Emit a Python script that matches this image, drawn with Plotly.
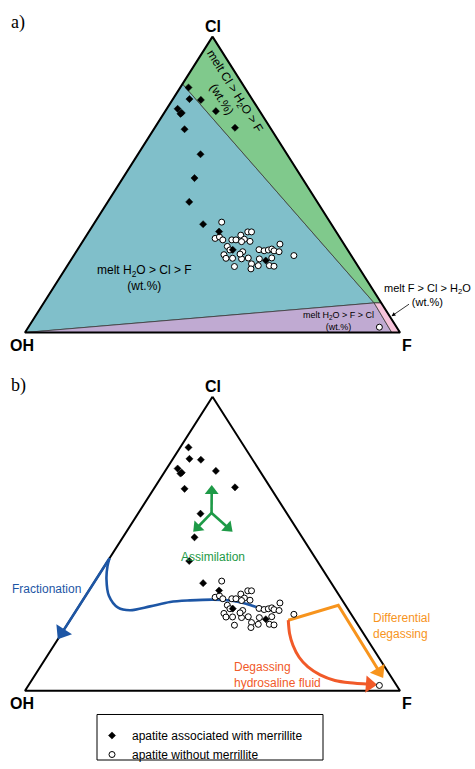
import math
import plotly.graph_objects as go

W, H = 475, 769
SANS = "Arial, Liberation Sans, Helvetica, sans-serif"
SERIF = "Times New Roman, Liberation Serif, serif"

# ---------------- apatite analyses, mol % (Cl, OH, F) ----------------
# apatite associated with merrillite
merr_cl = [82.8, 78.9, 78.6, 74.8, 75.6, 73.9, 74.2, 68.7, 69.2, 60.3, 52.2, 44.1, 36.6, 34.1, 27.9, 24.3]
merr_oh = [15.0, 16.7, 13.8, 11.7, 21.5, 21.6, 21.1, 23.1, 9.4, 23.1, 28.7, 34.1, 34.2, 31.2, 30.6, 23.6]
merr_f = [2.2, 4.4, 7.6, 13.5, 2.9, 4.5, 4.7, 8.2, 21.4, 16.7, 19.1, 21.7, 29.2, 34.7, 41.4, 52.0]

# apatite without merrillite
free_cl = [37.3, 31.8, 32.3, 31.3, 29.1, 31.3, 31.3, 32.9, 34.0, 34.0, 31.5, 30.8, 30.7,
           26.3, 25.1, 25.1, 27.3, 24.9, 25.2, 23.2, 21.5, 22.3, 28.0, 27.6, 27.9, 28.2,
           27.6, 27.3, 29.9, 24.9, 22.6, 22.6, 22.4, 25.2, 26.0, 27.9, 26.5, 1.8]
free_oh = [28.9, 33.4, 32.0, 31.6, 31.5, 29.2, 28.1, 26.0, 23.6, 22.6, 25.7, 24.6, 26.9,
           33.8, 33.9, 32.1, 28.3, 29.8, 27.9, 28.0, 29.0, 33.0, 23.6, 22.4, 21.2, 20.1,
           19.8, 18.6, 17.1, 25.1, 26.5, 23.5, 22.4, 21.6, 15.3, 31.4, 29.4, 4.6]
free_f = [33.8, 34.8, 35.7, 37.1, 39.4, 39.5, 40.6, 41.1, 42.4, 43.4, 42.7, 44.6, 42.4,
          39.9, 41.1, 42.8, 44.4, 45.3, 47.0, 48.8, 49.5, 44.7, 48.4, 49.9, 51.0, 51.7,
          52.6, 54.1, 53.1, 50.1, 50.9, 53.8, 55.2, 53.2, 58.7, 40.7, 44.1, 93.6]

# ---------------- melt-composition fields (panel a), (Cl, OH, F) ----------------
V_CL, V_OH, V_F = (100, 0, 0), (0, 100, 0), (0, 0, 100)
P_LEFT = (84.0, 16.0, 0.0)      # Cl = H2O boundary on the Cl-OH join
P_JUNC = (10.0, 1.9, 88.1)      # triple junction near the F corner
P_RIGHT = (10.0, 0.0, 90.0)     # green / pink boundary on the Cl-F join
P_BASE = (0.0, 2.2, 97.8)       # purple / pink boundary on the OH-F join

fields = [
    ("melt H2O > Cl > F", [V_OH, P_LEFT, P_JUNC], "#80bfca"),
    ("melt Cl > H2O > F", [V_CL, P_LEFT, P_JUNC, P_RIGHT], "#80c98c"),
    ("melt H2O > F > Cl", [V_OH, P_JUNC, P_BASE], "#c0aad2"),
    ("melt F > Cl > H2O", [P_JUNC, P_RIGHT, V_F, P_BASE], "#f6c3da"),
]

# ---------------- process trends (panel b), (Cl, OH, F) ----------------
frac_cl = [27.9, 28.5, 29.9, 30.7, 31.0, 30.7, 30.2, 28.7, 27.4, 28.3, 32.3, 38.0, 42.4, 45.1]
frac_oh = [21.6, 24.0, 26.9, 30.0, 34.3, 40.6, 46.2, 52.3, 58.3, 61.1, 61.4, 59.2, 56.8, 54.9]
frac_f = [50.5, 47.5, 43.3, 39.3, 34.7, 28.6, 23.6, 19.0, 14.3, 10.7, 6.2, 2.7, 0.8, 0.0]
frac_end_cl, frac_end_oh, frac_end_f = [45.1, 17.5], [54.9, 82.5], [0.0, 0.0]

assim_centre = (60.5, 20.0, 19.5)
assim_tips = [(70.0, 15.2, 14.8), (54.1, 28.1, 17.8), (54.1, 17.6, 28.3)]

diff_cl = [24.0, 29.1, 4.4]
diff_oh = [17.8, 1.9, 2.3]
diff_f = [58.2, 69.0, 93.4]

hyd_cl = [24.0, 19.5, 15.5, 11.4, 8.1, 5.4, 3.5, 2.7, 2.0]
hyd_oh = [17.8, 19.7, 20.8, 21.2, 20.5, 18.6, 15.6, 12.0, 5.1]
hyd_f = [58.2, 60.8, 63.7, 67.4, 71.4, 76.0, 80.9, 85.3, 92.9]

C_FRAC, C_ASSIM, C_DIFF, C_HYD = "#1d56a5", "#1e9a47", "#f7941d", "#f15a29"

# ---------------- page geometry (pixels) ----------------
COL_OH, COL_F = 25, 400
ROW_BASE = {"a": 336, "b": 698}
ROW_APEX = {"a": 37, "b": 401}
ROW_SPLIT = 380
SX = COL_F - COL_OH
SY = {k: ROW_BASE[k] - ROW_APEX[k] for k in ROW_BASE}
AX = {"a": ("x", "y"), "b": ("x2", "y2")}


def tern(cl, oh, f):
    """Project (Cl, OH, F) compositions onto the plane: OH at 0, F at 1, Cl on top."""
    xs, ys = [], []
    for a, b, c in zip(cl, oh, f):
        s = a + b + c
        xs.append((c + a / 2) / s)
        ys.append(a / s)
    return xs, ys


def pts(seq):
    return tern([p[0] for p in seq], [p[1] for p in seq], [p[2] for p in seq])


def paper(col, row):
    return col / W, 1 - row / H


def head(xs, ys, panel, size):
    """Centre and rotation of a triangle marker whose tip sits on the last path point."""
    sy = SY[panel]
    dxp = (xs[-1] - xs[-2]) * SX
    dyp = (ys[-2] - ys[-1]) * sy
    n = math.hypot(dxp, dyp)
    ux, uy = dxp / n, dyp / n
    ang = math.degrees(math.atan2(ux, -uy))
    cx = xs[-1] - ux * (size / 2) / SX
    cy = ys[-1] + uy * (size / 2) / sy
    return cx, cy, ang


fig = go.Figure()


def add(trace, panel):
    xa, ya = AX[panel]
    trace.update(xaxis=xa, yaxis=ya)
    fig.add_trace(trace)


def arrow(xs, ys, panel, color, width, size, shape="linear"):
    cx, cy, ang = head(xs, ys, panel, size)
    add(go.Scatter(x=xs[:-1] + [cx], y=ys[:-1] + [cy], mode="lines",
                   line=dict(color=color, width=width, shape=shape, smoothing=0.8),
                   hoverinfo="skip", showlegend=False), panel)
    add(go.Scatter(x=[cx], y=[cy], mode="markers",
                   marker=dict(symbol="triangle-up", size=size, angle=ang, color=color,
                               line=dict(width=0)),
                   hoverinfo="skip", showlegend=False, cliponaxis=False), panel)


# ---- panel a: melt fields ----
for name, poly, col in fields:
    fx, fy = pts(poly + [poly[0]])
    add(go.Scatter(x=fx, y=fy, mode="lines", fill="toself", fillcolor=col,
                   line=dict(color="#3a3a3a", width=0.8), name=name,
                   hoverinfo="skip", showlegend=False), "a")

# ---- triangle outlines ----
tx, ty = pts([V_CL, V_OH, V_F, V_CL])
for p in ("a", "b"):
    add(go.Scatter(x=tx, y=ty, mode="lines", line=dict(color="black", width=2),
                   hoverinfo="skip", showlegend=False, cliponaxis=False), p)

# ---- panel b: process trends ----
fx_, fy_ = tern(frac_cl, frac_oh, frac_f)
add(go.Scatter(x=fx_, y=fy_, mode="lines",
               line=dict(color=C_FRAC, width=2.6, shape="spline", smoothing=0.9),
               hoverinfo="skip", showlegend=False), "b")
ex, ey = tern(frac_end_cl, frac_end_oh, frac_end_f)
arrow(ex, ey, "b", C_FRAC, 2.6, 16)

ax0, ay0 = pts([assim_centre])
for tip in assim_tips:
    bx, by = pts([tip])
    arrow(ax0 + bx, ay0 + by, "b", C_ASSIM, 2.6, 12)

dx, dy = tern(diff_cl, diff_oh, diff_f)
arrow(dx, dy, "b", C_DIFF, 3, 15)

hx, hy = tern(hyd_cl, hyd_oh, hyd_f)
arrow(hx, hy, "b", C_HYD, 3, 15, shape="spline")

# ---- apatite analyses ----
mx, my = tern(merr_cl, merr_oh, merr_f)
nx, ny = tern(free_cl, free_oh, free_f)
for p in ("a", "b"):
    add(go.Scatter(x=nx, y=ny, mode="markers", name="apatite without merrillite",
                   marker=dict(symbol="circle", size=6, color="white",
                               line=dict(color="black", width=1)),
                   showlegend=(p == "b"), legendrank=2, cliponaxis=False), p)
    add(go.Scatter(x=mx, y=my, mode="markers", name="apatite associated with merrillite",
                   marker=dict(symbol="diamond", size=5.5, color="black",
                               line=dict(color="black", width=0.5)),
                   showlegend=(p == "b"), legendrank=1, cliponaxis=False), p)

# ---- text ----
ann = []


def label(text, col, row, size=12, color="black", family=SANS, angle=0, align="center",
          xanchor="center"):
    x, y = paper(col, row)
    ann.append(dict(text=text, x=x, y=y, xref="paper", yref="paper", showarrow=False,
                    font=dict(size=size, color=color, family=family), textangle=angle,
                    align=align, xanchor=xanchor, yanchor="middle"))


label("a)", 18, 23, size=18, family=SERIF)
label("b)", 18, 390, size=18, family=SERIF)
for row_cl, row_base in ((27, 349), (391, 711)):
    label("<b>Cl</b>", 213, row_cl, size=16)
    label("<b>OH</b>", 22, row_base, size=16)
    label("<b>F</b>", 407, row_base, size=16)

edge_angle = math.degrees(math.atan2(SY["a"], SX / 2))
label("melt Cl > H<sub>2</sub>O > F<br>(wt.%)", 228, 96, angle=edge_angle)
label("melt H<sub>2</sub>O > Cl > F<br>(wt.%)", 144, 281)
label("melt H<sub>2</sub>O > F > Cl<br>(wt.%)", 338, 324, size=9)
label("melt F > Cl > H<sub>2</sub>O<br>(wt.%)", 427, 298, size=11)

tipx, tipy = paper(391.5, 319.5)
ann.append(dict(text="", x=tipx, y=tipy, xref="paper", yref="paper", showarrow=True,
                ax=19, ay=-13, arrowhead=2, arrowsize=1, arrowwidth=0.8,
                arrowcolor="black"))

label("Fractionation", 46, 595, color=C_FRAC)
label("Assimilation", 213, 563, color=C_ASSIM)
label("Differential<br>degassing", 371, 633, color=C_DIFF, align="left", xanchor="left")
label("Degassing<br>hydrosaline fluid", 232, 682, color=C_HYD, align="left", xanchor="left")

lx0, ly0 = paper(97, 722)
lx1, ly1 = paper(323, 768)

fig.update_layout(
    width=W, height=H,
    margin=dict(l=0, r=0, t=0, b=0),
    paper_bgcolor="white", plot_bgcolor="white",
    font=dict(family=SANS, size=12, color="black"),
    xaxis=dict(domain=[0, 1], range=[-COL_OH / SX, (W - COL_OH) / SX], visible=False),
    yaxis=dict(domain=[1 - ROW_SPLIT / H, 1],
               range=[(ROW_BASE["a"] - ROW_SPLIT) / SY["a"], ROW_BASE["a"] / SY["a"]],
               visible=False),
    xaxis2=dict(domain=[0, 1], range=[-COL_OH / SX, (W - COL_OH) / SX], visible=False,
                anchor="y2"),
    yaxis2=dict(domain=[0, 1 - ROW_SPLIT / H],
                range=[(ROW_BASE["b"] - H) / SY["b"], (ROW_BASE["b"] - ROW_SPLIT) / SY["b"]],
                visible=False, anchor="x2"),
    annotations=ann,
    shapes=[dict(type="rect", xref="paper", yref="paper", x0=lx0, x1=lx1, y0=ly0, y1=ly1,
                 line=dict(color="black", width=1), fillcolor="rgba(0,0,0,0)")],
    legend=dict(x=92 / W, y=1 - 729 / H, xanchor="left", yanchor="top",
                font=dict(size=12, family=SANS), bgcolor="rgba(0,0,0,0)", borderwidth=0,
                tracegroupgap=0),
    showlegend=True,
)

fig.write_html("out.html")
